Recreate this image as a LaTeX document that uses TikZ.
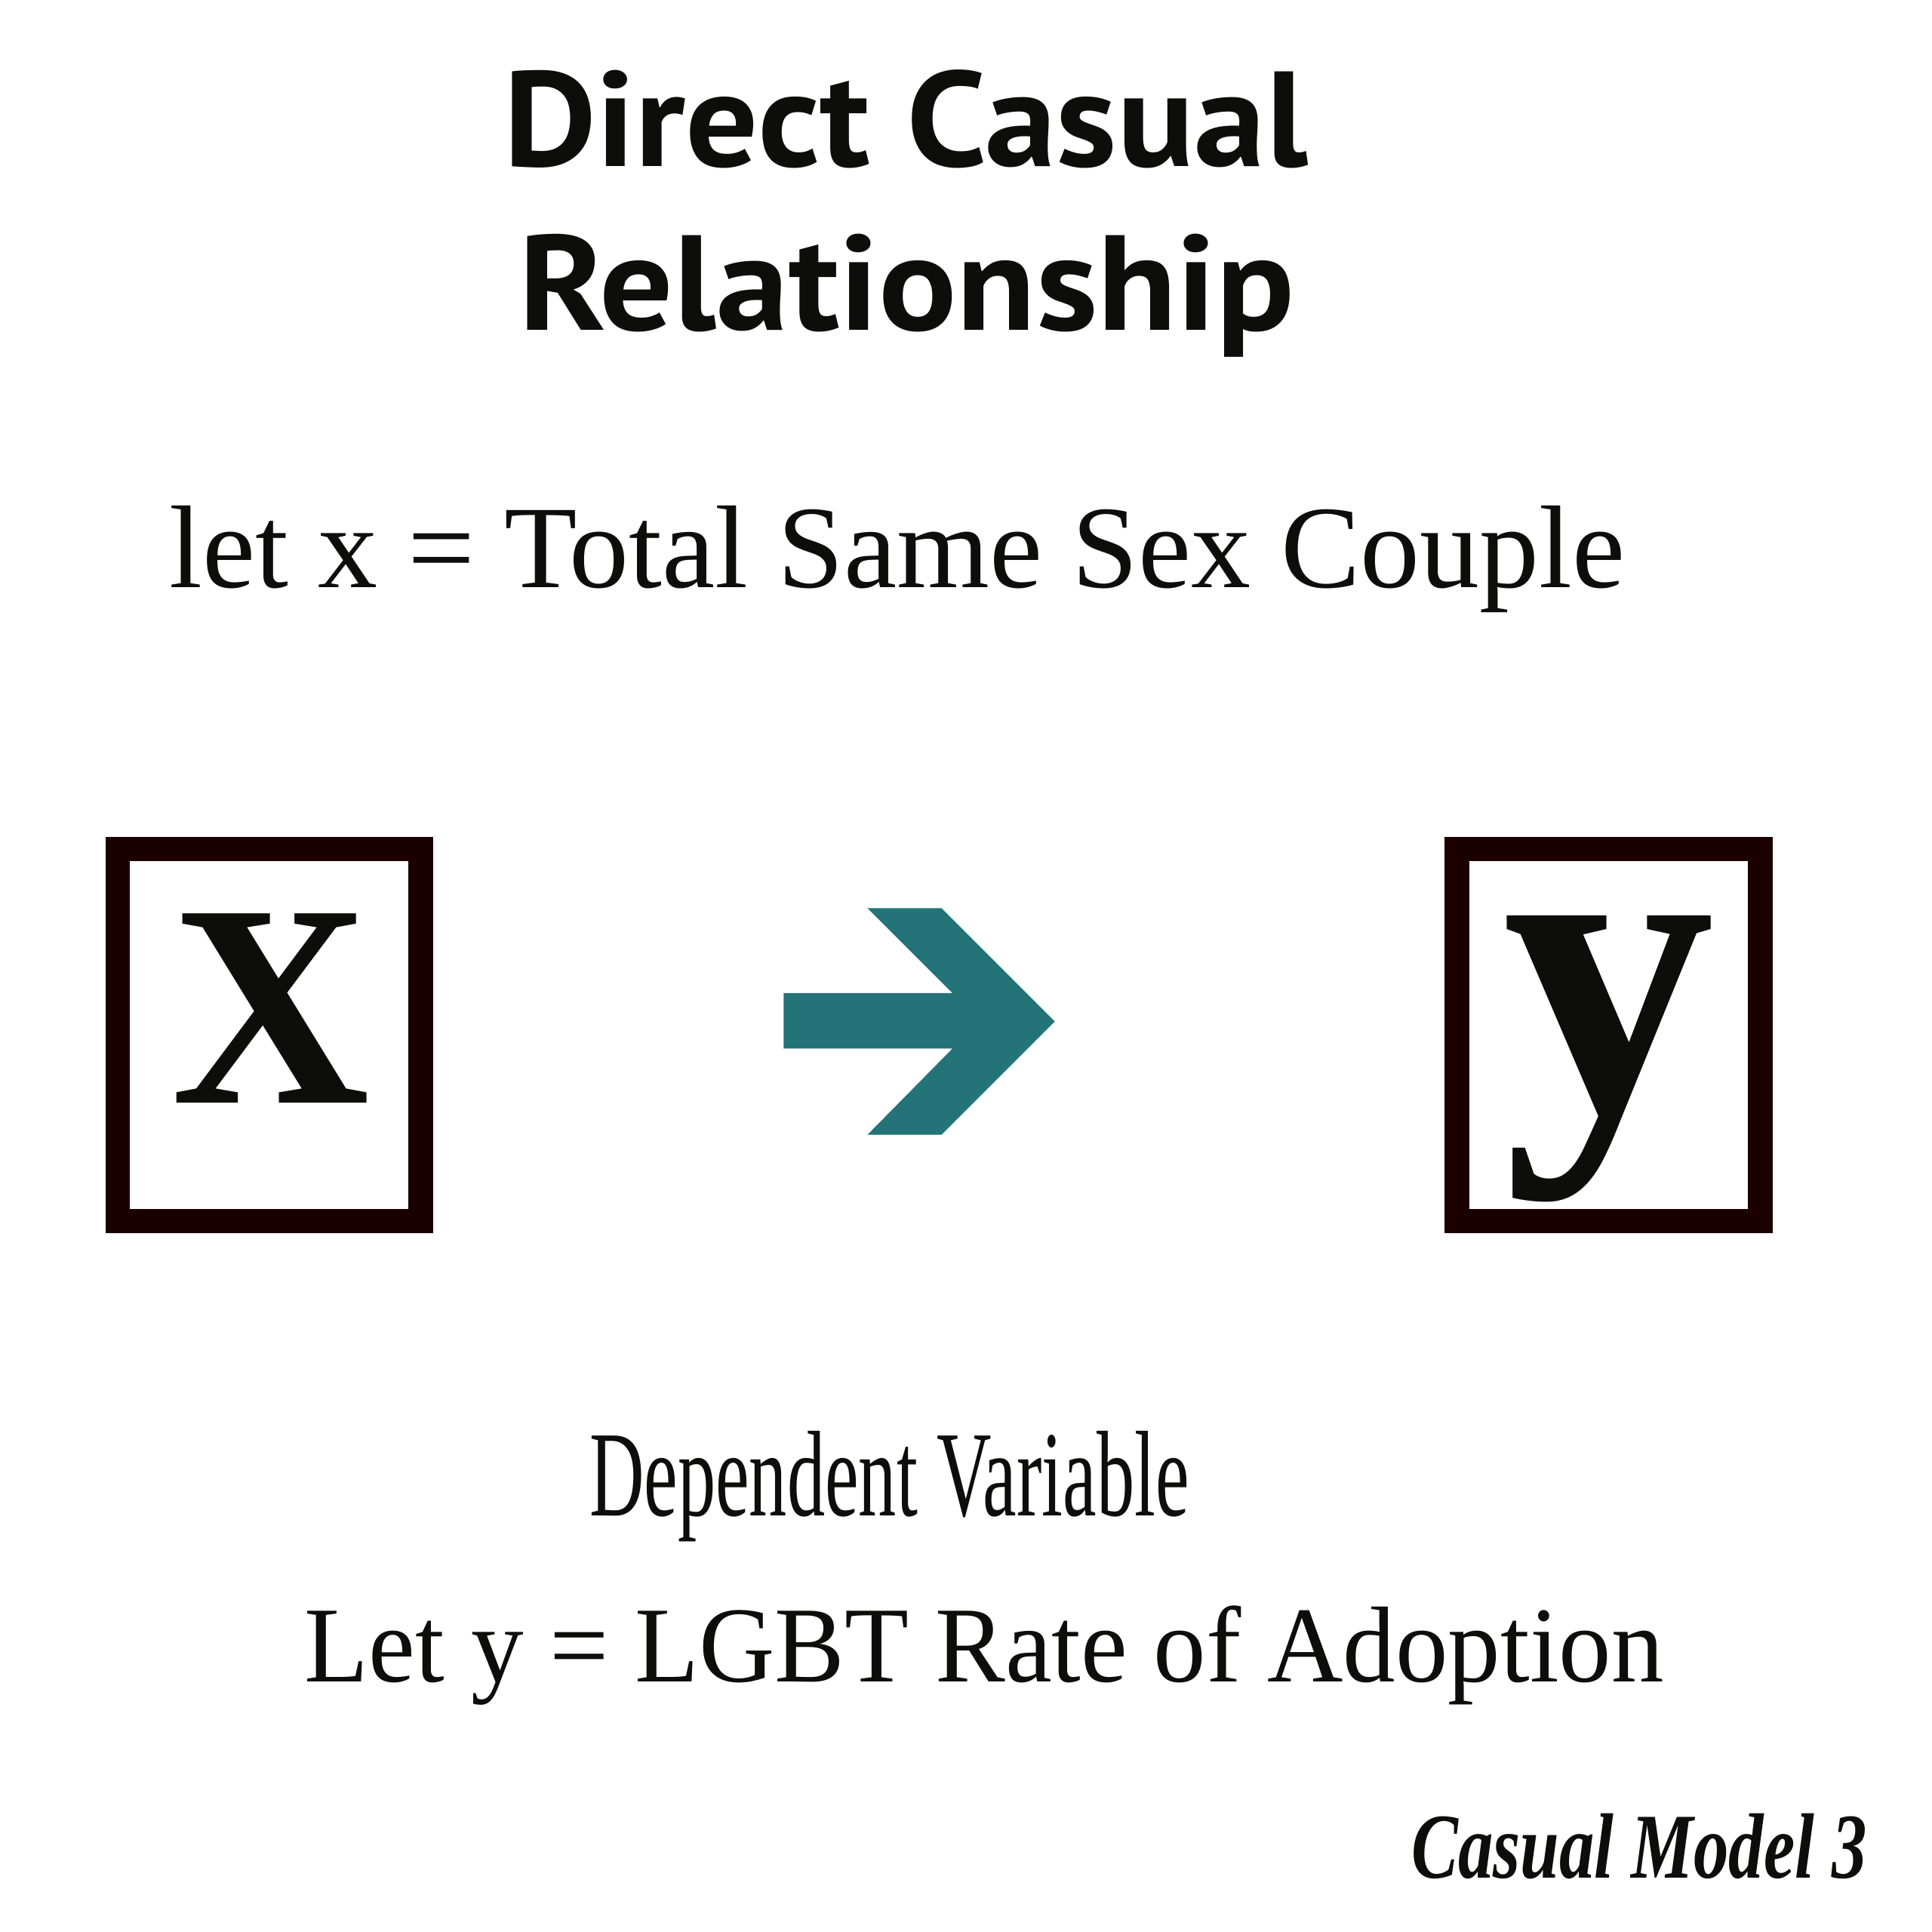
\documentclass[tikz,border=0pt]{standalone}
\usepackage{fontspec}
\setmainfont{Liberation Serif}
\newfontfamily\titlefont{PT Sans}
\definecolor{boxcol}{HTML}{1C0000}
\definecolor{ink}{HTML}{0D0E0A}
\definecolor{arrowteal}{HTML}{237378}
\tikzset{
  titletxt/.style={anchor=base, inner sep=0pt, text=ink, font=\titlefont\bfseries\fontsize{51}{60}\selectfont},
  bodytxt/.style={anchor=base west, inner sep=0pt, text=ink},
  varbox/.style={draw=boxcol, line width=9.27pt, fill=white, minimum width=4.016cm, minimum height=4.931cm, inner sep=0pt, text=ink},
}
\begin{document}
\begin{tikzpicture}[x=0.0163265cm,y=-0.0163265cm]
\useasboundingbox (0,0) rectangle (1568,1568);
\fill[white] (0,0) rectangle (1568,1568);
% title
\node[titletxt] (t1) at (735,135) {\scalebox{1.062}[1]{Direct Casual}};
\node[titletxt] (t2) at (736,268) {\scalebox{1.076}[1]{Relationship}};
% definition of x
\node[bodytxt, font=\fontsize{44.4}{52}\selectfont] (defx) at (137,477) {\scalebox{1.012}[1]{let x = Total Same Sex Couple}};
% boxes
\node[varbox] (bx) at (218.5,840) {};
\node[varbox] (by) at (1305.5,840) {};
\node[anchor=base, inner sep=0pt, text=ink, font=\bfseries\fontsize{109}{120}\selectfont] (lx) at (220,895) {\scalebox{0.95}[1]{X}};
\node[anchor=base, inner sep=0pt, text=ink, font=\bfseries\fontsize{160}{170}\selectfont] (ly) at (1306,901) {y};
% arrow
\fill[arrowteal] (636,806) -- (773,806) -- (704,737) -- (764,737) -- (856,829)
  -- (764,921) -- (704,921) -- (773,851) -- (636,851) -- cycle;
% dependent variable
\node[bodytxt, font=\fontsize{46}{52}\selectfont] (dep) at (478,1230) {\scalebox{0.621}[1]{Dependent Variable}};
\node[bodytxt, font=\fontsize{40.7}{48}\selectfont] (defy) at (247,1365) {\scalebox{0.972}[1]{Let y = LGBT Rate of Adoption}};
% signature
\node[bodytxt, font=\bfseries\itshape\fontsize{35}{40}\selectfont] (sig) at (1145,1524) {\scalebox{0.755}[1]{Casual Model 3}};
\end{tikzpicture}
\end{document}
